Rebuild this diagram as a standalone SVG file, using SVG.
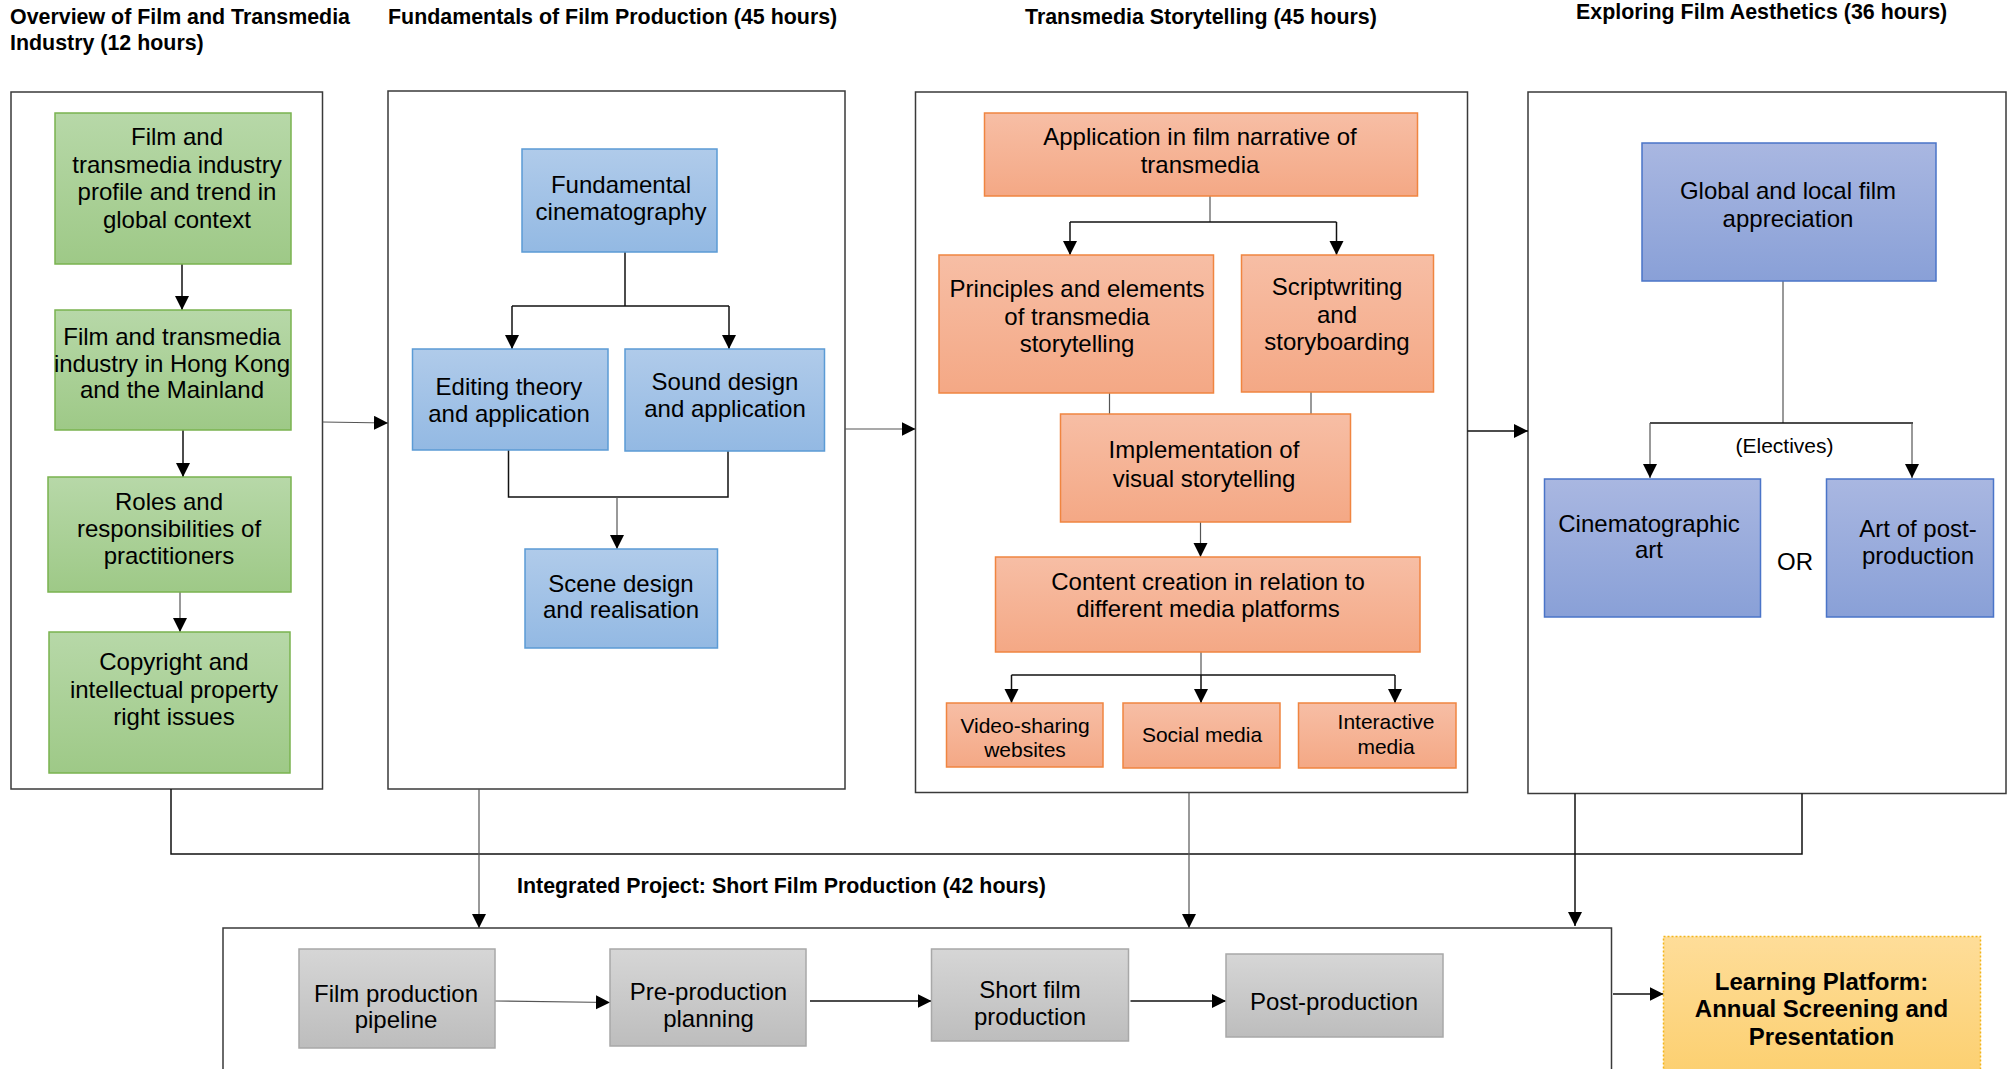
<svg xmlns="http://www.w3.org/2000/svg" width="2008" height="1069" viewBox="0 0 2008 1069">
<defs>
<linearGradient id="gG" x1="0" y1="0" x2="0" y2="1"><stop offset="0" stop-color="#b7d8a8"/><stop offset="1" stop-color="#9ec987"/></linearGradient>
<linearGradient id="gB" x1="0" y1="0" x2="0" y2="1"><stop offset="0" stop-color="#b0cbea"/><stop offset="1" stop-color="#93b9e3"/></linearGradient>
<linearGradient id="gO" x1="0" y1="0" x2="0" y2="1"><stop offset="0" stop-color="#f7bea5"/><stop offset="1" stop-color="#f4a885"/></linearGradient>
<linearGradient id="gP" x1="0" y1="0" x2="0" y2="1"><stop offset="0" stop-color="#a9b7e1"/><stop offset="1" stop-color="#89a0d7"/></linearGradient>
<linearGradient id="gY" x1="0" y1="0" x2="0" y2="1"><stop offset="0" stop-color="#fedd99"/><stop offset="1" stop-color="#fccf6e"/></linearGradient>
<linearGradient id="gS" x1="0" y1="0" x2="0" y2="1"><stop offset="0" stop-color="#d6d6d6"/><stop offset="1" stop-color="#bdbdbd"/></linearGradient>
<marker id="ah" markerUnits="userSpaceOnUse" markerWidth="15" markerHeight="15" refX="14" refY="7" orient="auto"><path d="M0,0 L14,7 L0,14 z" fill="#000"/></marker>
</defs>
<style>
text{font-family:"Liberation Sans",Arial,sans-serif;fill:#000;}
.t{font-size:21.4px;font-weight:bold;}
.n{font-size:24px;text-anchor:middle;}
.s{font-size:21px;text-anchor:middle;}
.lb{font-size:24px;font-weight:bold;text-anchor:middle;}
.c{fill:#fff;stroke:#3a3a3a;stroke-width:1.5;}
.gr{fill:url(#gG);stroke:#7ab34f;stroke-width:1.5;}
.bl{fill:url(#gB);stroke:#5b9bd5;stroke-width:1.5;}
.or{fill:url(#gO);stroke:#f08540;stroke-width:1.5;}
.pu{fill:url(#gP);stroke:#4a74c8;stroke-width:1.5;}
.gy{fill:url(#gS);stroke:#a8a8a8;stroke-width:1.5;}
.ye{fill:url(#gY);stroke:#f2b51a;stroke-width:1.5;stroke-dasharray:2 2;}
.k{fill:none;stroke:#111;stroke-width:1.5;}
.g{fill:none;stroke:#555;stroke-width:1.2;}
.a{marker-end:url(#ah);}
</style>

<g id="titles">
<text class="t" x="10" y="24">Overview of Film and Transmedia</text>
<text class="t" x="10" y="50">Industry (12 hours)</text>
<text class="t" x="388" y="24">Fundamentals of Film Production (45 hours)</text>
<text class="t" x="1025" y="24">Transmedia Storytelling (45 hours)</text>
<text class="t" x="1576" y="19">Exploring Film Aesthetics (36 hours)</text>
<text class="t" x="517" y="893">Integrated Project: Short Film Production (42 hours)</text>
</g>

<g id="container-overview"><rect class="c" x="11" y="92" width="311.5" height="697"/></g>
<g id="container-fundamentals"><rect class="c" x="388" y="91" width="457" height="698"/></g>
<g id="container-transmedia"><rect class="c" x="915.5" y="92" width="552" height="700.5"/></g>
<g id="container-aesthetics"><rect class="c" x="1528" y="92" width="478" height="701.5"/></g>
<g id="container-project"><rect class="c" x="223" y="928" width="1388.5" height="150"/></g>

<g id="connectors">
<line class="k a" x1="182" y1="264" x2="182" y2="310"/>
<line class="k a" x1="183" y1="430" x2="183" y2="477"/>
<line class="g a" x1="180" y1="592" x2="180" y2="632"/>

<line class="k" x1="625" y1="252" x2="625" y2="306"/>
<polyline class="k" points="512,306 729,306"/>
<line class="k a" x1="512" y1="306" x2="512" y2="349"/>
<line class="k a" x1="729" y1="306" x2="729" y2="349"/>
<polyline class="k" points="508.5,450 508.5,497 728,497 728,451"/>
<line class="g a" x1="617" y1="497" x2="617" y2="549"/>

<line class="g" x1="1210" y1="196" x2="1210" y2="222"/>
<line class="k" x1="1070" y1="222" x2="1336.5" y2="222"/>
<line class="k a" x1="1070" y1="222" x2="1070" y2="255"/>
<line class="k a" x1="1336.5" y1="222" x2="1336.5" y2="255"/>
<line class="g" x1="1109.5" y1="393" x2="1109.5" y2="414"/>
<line class="g" x1="1311" y1="392" x2="1311" y2="414"/>
<line class="g a" x1="1200.5" y1="522" x2="1200.5" y2="557"/>
<line class="g" x1="1201" y1="652" x2="1201" y2="675"/>
<line class="k" x1="1011.5" y1="675" x2="1395" y2="675"/>
<line class="k a" x1="1011.5" y1="675" x2="1011.5" y2="703"/>
<line class="k a" x1="1201" y1="675" x2="1201" y2="703"/>
<line class="k a" x1="1395" y1="675" x2="1395" y2="703"/>

<line class="g" x1="1783" y1="281" x2="1783" y2="423"/>
<line class="k" x1="1650" y1="423" x2="1913" y2="423"/>
<line class="g a" x1="1650" y1="423" x2="1650" y2="478"/>
<line class="g a" x1="1912" y1="423" x2="1912" y2="478"/>

<line class="g a" x1="322.5" y1="422" x2="388" y2="423"/>
<line class="g a" x1="845" y1="429" x2="915.5" y2="429"/>
<line class="k a" x1="1467.5" y1="431" x2="1528" y2="431"/>

<polyline class="k" points="171,789 171,854 1802,854 1802,793.5"/>
<line class="g a" x1="479" y1="789" x2="479" y2="928"/>
<line class="g a" x1="1189" y1="792.5" x2="1189" y2="928"/>
<line class="k a" x1="1575" y1="793.5" x2="1575" y2="926"/>

<line class="g a" x1="495" y1="1001" x2="610" y2="1002.5"/>
<line class="k a" x1="810" y1="1001" x2="931.5" y2="1001"/>
<line class="k a" x1="1130.5" y1="1001" x2="1226" y2="1001"/>
<line class="k a" x1="1613" y1="994" x2="1663.5" y2="994"/>
</g>

<g id="node-industry-profile"><rect class="gr" x="55" y="113" width="236" height="151"/>
<text class="n" x="177" y="145">Film and</text><text class="n" x="177" y="173">transmedia industry</text><text class="n" x="177" y="200">profile and trend in</text><text class="n" x="177" y="228">global context</text></g>
<g id="node-hk-mainland"><rect class="gr" x="55" y="310" width="236" height="120"/>
<text class="n" x="172" y="345">Film and transmedia</text><text class="n" x="172" y="372">industry in Hong Kong</text><text class="n" x="172" y="398">and the Mainland</text></g>
<g id="node-roles"><rect class="gr" x="48" y="477" width="243" height="115"/>
<text class="n" x="169" y="510">Roles and</text><text class="n" x="169" y="537">responsibilities of</text><text class="n" x="169" y="564">practitioners</text></g>
<g id="node-copyright"><rect class="gr" x="49" y="632" width="241" height="141"/>
<text class="n" x="174" y="670">Copyright and</text><text class="n" x="174" y="698">intellectual property</text><text class="n" x="174" y="725">right issues</text></g>

<g id="node-cinematography"><rect class="bl" x="522" y="149" width="195" height="103"/>
<text class="n" x="621" y="193">Fundamental</text><text class="n" x="621" y="220">cinematography</text></g>
<g id="node-editing"><rect class="bl" x="412.5" y="349" width="195.5" height="101"/>
<text class="n" x="509" y="395">Editing theory</text><text class="n" x="509" y="422">and application</text></g>
<g id="node-sound"><rect class="bl" x="625" y="349" width="199.5" height="102"/>
<text class="n" x="725" y="390">Sound design</text><text class="n" x="725" y="417">and application</text></g>
<g id="node-scene"><rect class="bl" x="525" y="549" width="192.5" height="99"/>
<text class="n" x="621" y="592">Scene design</text><text class="n" x="621" y="618">and realisation</text></g>

<g id="node-application"><rect class="or" x="984.5" y="113" width="433" height="83"/>
<text class="n" x="1200" y="145">Application in film narrative of</text><text class="n" x="1200" y="173">transmedia</text></g>
<g id="node-principles"><rect class="or" x="939" y="255" width="274.5" height="138"/>
<text class="n" x="1077" y="297">Principles and elements</text><text class="n" x="1077" y="325">of transmedia</text><text class="n" x="1077" y="352">storytelling</text></g>
<g id="node-scriptwriting"><rect class="or" x="1241.5" y="255" width="192" height="137"/>
<text class="n" x="1337" y="295">Scriptwriting</text><text class="n" x="1337" y="323">and</text><text class="n" x="1337" y="350">storyboarding</text></g>
<g id="node-implementation"><rect class="or" x="1060.5" y="414" width="290" height="108"/>
<text class="n" x="1204" y="458">Implementation of</text><text class="n" x="1204" y="487">visual storytelling</text></g>
<g id="node-content"><rect class="or" x="995.5" y="557" width="424.5" height="95"/>
<text class="n" x="1208" y="590">Content creation in relation to</text><text class="n" x="1208" y="617">different media platforms</text></g>
<g id="node-video"><rect class="or" x="946.5" y="703" width="156.5" height="64"/>
<text class="s" x="1025" y="733">Video-sharing</text><text class="s" x="1025" y="757">websites</text></g>
<g id="node-social"><rect class="or" x="1123" y="703" width="157" height="65"/>
<text class="s" x="1202" y="742">Social media</text></g>
<g id="node-interactive"><rect class="or" x="1298.5" y="703" width="157.5" height="65"/>
<text class="s" x="1386" y="729">Interactive</text><text class="s" x="1386" y="754">media</text></g>

<g id="node-global"><rect class="pu" x="1642" y="143" width="294" height="138"/>
<text class="n" x="1788" y="199">Global and local film</text><text class="n" x="1788" y="227">appreciation</text></g>
<g id="label-electives"><text class="s" x="1784.5" y="453">(Electives)</text></g>
<g id="node-cinematographic-art"><rect class="pu" x="1544.5" y="479" width="216" height="138"/>
<text class="n" x="1649" y="532">Cinematographic</text><text class="n" x="1649" y="558">art</text></g>
<g id="label-or"><text class="n" x="1795" y="570">OR</text></g>
<g id="node-post-art"><rect class="pu" x="1826.5" y="479" width="167" height="138"/>
<text class="n" x="1918" y="537">Art of post-</text><text class="n" x="1918" y="564">production</text></g>

<g id="node-pipeline"><rect class="gy" x="299" y="949" width="196" height="99"/>
<text class="n" x="396" y="1002">Film production</text><text class="n" x="396" y="1028">pipeline</text></g>
<g id="node-preproduction"><rect class="gy" x="610" y="949" width="196" height="97"/>
<text class="n" x="708.5" y="1000">Pre-production</text><text class="n" x="708.5" y="1027">planning</text></g>
<g id="node-shortfilm"><rect class="gy" x="931.5" y="949" width="197" height="92"/>
<text class="n" x="1030" y="998">Short film</text><text class="n" x="1030" y="1025">production</text></g>
<g id="node-postproduction"><rect class="gy" x="1226" y="954" width="217" height="83"/>
<text class="n" x="1334" y="1010">Post-production</text></g>

<g id="node-learning-platform"><rect class="ye" x="1663.5" y="936.5" width="317" height="145"/>
<text class="lb" x="1821.5" y="990">Learning Platform:</text><text class="lb" x="1821.5" y="1017">Annual Screening and</text><text class="lb" x="1821.5" y="1045">Presentation</text></g>
</svg>
